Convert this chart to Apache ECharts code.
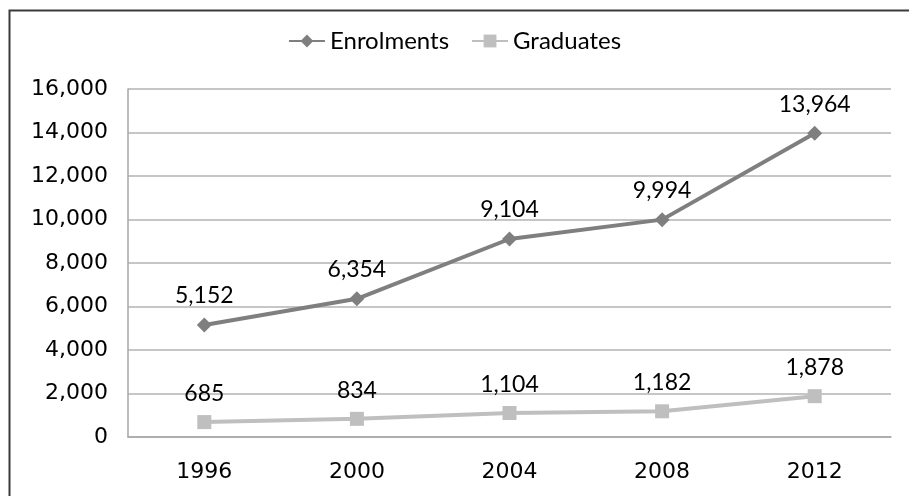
<!DOCTYPE html>
<html>
<head>
<meta charset="utf-8">
<script src="https://cdn.jsdelivr.net/npm/echarts@6/dist/echarts.min.js"></script>
<style>
html,body{margin:0;padding:0;background:#fff;}
#chart{width:909px;height:496px;}
</style>
</head>
<body>
<div id="chart"></div>
<script>
const years = ['1996', '2000', '2004', '2008', '2012'];
const enrolments = [5152, 6354, 9104, 9994, 13964];
const graduates = [685, 834, 1104, 1182, 1878];
const yMin = 0, yMax = 16000, yStep = 2000;

const fmt = v => v.toLocaleString('en-US');
const chart = echarts.init(document.getElementById('chart'), null, {renderer: 'canvas'});
chart.setOption({
  animation: false,
  backgroundColor: '#ffffff',
  graphic: [{
    type: 'rect', left: 7, top: 8, z: -1,
    shape: {width: 940, height: 520},
    style: {fill: 'none', stroke: '#3a3a3a', lineWidth: 2}
  }],
  legend: {
    top: 24, left: 'center',
    itemWidth: 36, itemHeight: 16, itemGap: 22,
    textStyle: {fontFamily: 'Lato', fontSize: 24, color: '#000'},
    data: ['Enrolments', 'Graduates']
  },
  grid: {left: 128, right: 18, top: 89, bottom: 59, containLabel: false},
  xAxis: {
    type: 'category', data: years, boundaryGap: true,
    axisLine: {lineStyle: {color: '#a6a6a6', width: 1.5}},
    axisTick: {show: false},
    axisLabel: {fontFamily: 'DejaVu Sans', fontSize: 22, color: '#000', margin: 24}
  },
  yAxis: {
    type: 'value', min: yMin, max: yMax, interval: yStep,
    axisLine: {show: true, lineStyle: {color: '#a6a6a6', width: 1.5}},
    axisTick: {show: false},
    splitLine: {lineStyle: {color: '#b3b3b3', width: 1.5}},
    axisLabel: {fontFamily: 'DejaVu Sans', fontSize: 22, color: '#000', margin: 20,
      formatter: v => fmt(v)}
  },
  series: [{
    name: 'Enrolments', type: 'line', data: enrolments,
    symbol: 'diamond', symbolSize: 15,
    lineStyle: {color: '#7f7f7f', width: 4},
    itemStyle: {color: '#7f7f7f'},
    label: {show: true, position: 'top', distance: 10, fontFamily: 'Lato', fontSize: 23, color: '#000',
      formatter: p => fmt(p.value)}
  }, {
    name: 'Graduates', type: 'line', data: graduates,
    symbol: 'rect', symbolSize: 14,
    lineStyle: {color: '#bfbfbf', width: 4},
    itemStyle: {color: '#bfbfbf'},
    label: {show: true, position: 'top', distance: 10, fontFamily: 'Lato', fontSize: 23, color: '#000',
      formatter: p => fmt(p.value)}
  }]
});
</script>
</body>
</html>
